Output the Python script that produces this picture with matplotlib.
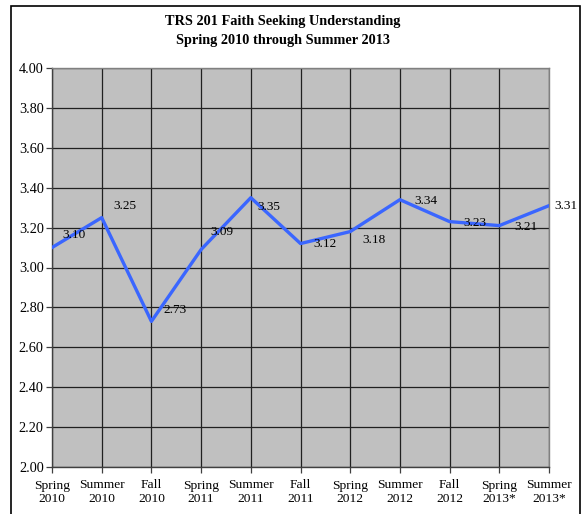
import matplotlib.pyplot as plt
from matplotlib.patches import Rectangle

## DATA
terms = ['Spring\n2010', 'Summer\n2010', 'Fall\n2010', 'Spring\n2011', 'Summer\n2011',
         'Fall\n2011', 'Spring\n2012', 'Summer\n2012', 'Fall\n2012', 'Spring\n2013*',
         'Summer\n2013*']
scores = [3.10, 3.25, 2.73, 3.09, 3.35, 3.12, 3.18, 3.34, 3.23, 3.21, 3.31]
y_ticks = [2.00, 2.20, 2.40, 2.60, 2.80, 3.00, 3.20, 3.40, 3.60, 3.80, 4.00]

# label nudges in pixels (dx, dy) - excel put them a bit all over the place
label_offsets = [(10, 13), (12, 12), (12, 11), (9, 18), (7, -9), (13, 0),
                 (12, -8), (14, -1), (14, -1), (15, -1), (5, 0)]

plt.rcParams['font.family'] = ['Liberation Serif', 'DejaVu Serif']

fig = plt.figure(figsize=(5.82, 5.14), dpi=100)
fig.patch.set_facecolor('white')
# outer chart border
fig.patches.append(Rectangle((11 / 582, -0.01), 569 / 582, 1 - 6 / 514 + 0.01,
                             transform=fig.transFigure, fill=False,
                             edgecolor='black', linewidth=1.2))

ax = fig.add_axes([52 / 582, 1 - 467 / 514, 497 / 582, 399 / 514])
ax.set_facecolor('#C0C0C0')

x = list(range(len(terms)))
ax.plot(x, scores, color='#3A66FF', linewidth=2.4, zorder=3)

for xi, yi, (dx, dy) in zip(x, scores, label_offsets):
    ax.annotate('%.2f' % yi, (xi, yi), xytext=(dx * 0.72, dy * 0.72),
                textcoords='offset points', ha='left', va='center',
                fontsize=9.5, zorder=4)

ax.set_xlim(0, len(terms) - 1)
ax.set_ylim(2.0, 4.0)
ax.set_yticks(y_ticks)
ax.set_yticklabels(['%.2f' % t for t in y_ticks], fontsize=10.3)
ax.set_xticks(x)
ax.set_xticklabels(terms, fontsize=9.7, linespacing=1.2)
ax.grid(True, color='#202020', linewidth=0.9)
ax.set_axisbelow(True)
ax.tick_params(axis='both', direction='out', length=4, width=0.9, color='#404040', pad=2)
ax.tick_params(axis='x', pad=5)

for side in ['top', 'right']:
    ax.spines[side].set_color('#808080')
    ax.spines[side].set_linewidth(1.0)
for side in ['left', 'bottom']:
    ax.spines[side].set_color('#404040')
    ax.spines[side].set_linewidth(1.0)

fig.text(283 / 582, 1 - 22 / 514, 'TRS 201 Faith Seeking Understanding',
         ha='center', va='center', fontsize=10.3, fontweight='bold')
fig.text(283 / 582, 1 - 41 / 514, 'Spring 2010 through Summer 2013',
         ha='center', va='center', fontsize=10.3, fontweight='bold')

fig.savefig('out.png', dpi=100)
